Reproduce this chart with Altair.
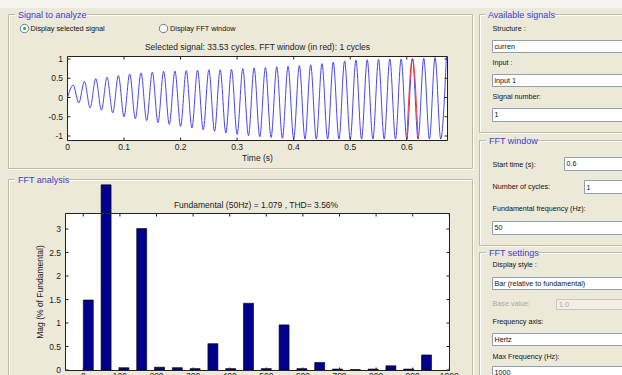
import altair as alt
import pandas as pd

# ------------------------------------------------------------------ data
FUND_HZ = 50
# signal extrema (peaks at 0.01+0.02k s, troughs at 0.02k s)
peak_values = [0.32, 0.42, 0.49, 0.53, 0.57, 0.61, 0.64, 0.66, 0.68, 0.69,
               0.70, 0.71, 0.72, 0.72, 0.73, 0.75, 0.77, 0.78, 0.80, 0.81,
               0.83, 0.85, 0.88, 0.92, 0.95, 0.97, 0.98, 0.99, 1.00, 1.00,
               1.01, 1.02, 1.04, 1.05]
trough_values = [-0.14, -0.27, -0.33, -0.40, -0.50, -0.55, -0.60, -0.65, -0.70, -0.75,
                 -0.79, -0.84, -0.88, -0.92, -0.96, -0.99, -1.02, -1.04, -1.06, -1.07,
                 -1.08, -1.08, -1.08, -1.08, -1.08, -1.08, -1.08, -1.08, -1.08, -1.08,
                 -1.08, -1.08, -1.08]
window_start = 0.60
window_cycles = 1

sig_xticks = [0, 0.1, 0.2, 0.3, 0.4, 0.5, 0.6]
sig_xlabels = ["0", "0.1", "0.2", "0.3", "0.4", "0.5", "0.6"]
sig_yticks = [-1, -0.5, 0, 0.5, 1]
sig_ylabels = ["-1", "-0.5", "0", "0.5", "1"]

fft_freqs = [0, 50, 100, 150, 200, 250, 300, 350, 400, 450,
             500, 550, 600, 650, 700, 750, 800, 850, 900, 950]
fft_mags = [1.49, 3.94, 0.05, 3.01, 0.06, 0.05, 0.03, 0.56, 0.03, 1.42,
            0.03, 0.96, 0.03, 0.16, 0.02, 0.01, 0.02, 0.09, 0.02, 0.32]
fft_xticks = [0, 100, 200, 300, 400, 500, 600, 700, 800, 900, 1000]
fft_xlabels = [str(v) for v in fft_xticks]
fft_yticks = [0, 0.5, 1, 1.5, 2, 2.5, 3]
fft_ylabels = ["0", "0.5", "1", "1.5", "2", "2.5", "3"]

sig_title = "Selected signal: 33.53 cycles. FFT window (in red): 1 cycles"
fft_title = "Fundamental (50Hz) = 1.079 , THD= 3.56%"

# ------------------------------------------------------------------ tables
period = 1.0 / FUND_HZ
pts = [(0.0, 0.0)]
for k in range(len(peak_values)):
    pts.append((period / 2 + k * period, peak_values[k]))
    if k < len(trough_values):
        pts.append((period + k * period, trough_values[k]))
pts.sort()
sig_df = pd.DataFrame(pts, columns=["t", "v"])
w_end = window_start + window_cycles * period
win_df = sig_df[(sig_df.t >= window_start - 1e-9) & (sig_df.t <= w_end + 1e-9)]

fft_df = pd.DataFrame({"f": fft_freqs, "m": fft_mags})

FONT = "Liberation Sans"
BG = "#ECE9D8"

# scales (pixel placement of the two axes boxes)
SX = alt.Scale(domain=[0, 0.6], range=[67.5, 406.8], nice=False, zero=False)
SY = alt.Scale(domain=[-1, 1], range=[136, 59], nice=False, zero=False)
FX = alt.Scale(domain=[0, 1000], range=[83.3, 449.3], nice=False, zero=False)
FY = alt.Scale(domain=[0, 3], range=[370, 229], nice=False, zero=False)

SIG_BOX = (67.5, 56.5, 447.5, 140.5)
FFT_BOX = (65.5, 213.5, 449.5, 370.5)


def prect(rows, **kw):
    df = pd.DataFrame(rows, columns=["x0", "y0", "x1", "y1"])
    return alt.Chart(df).mark_rect(**kw).encode(
        x=alt.X("x0:Q", scale=None, axis=None), x2="x1:Q",
        y=alt.Y("y0:Q", scale=None, axis=None), y2="y1:Q")


def prule(rows, **kw):
    df = pd.DataFrame(rows, columns=["x0", "y0", "x1", "y1"])
    return alt.Chart(df).mark_rule(**kw).encode(
        x=alt.X("x0:Q", scale=None, axis=None), x2="x1:Q",
        y=alt.Y("y0:Q", scale=None, axis=None), y2="y1:Q")


def ptext(rows, **kw):
    df = pd.DataFrame(rows, columns=["x", "y", "text"])
    return alt.Chart(df).mark_text(**kw).encode(
        x=alt.X("x:Q", scale=None, axis=None),
        y=alt.Y("y:Q", scale=None, axis=None), text="text:N")


layers = []

# top strip
layers.append(prect([(0, 0, 622, 8)], fill="#F4F3EE"))

# group boxes (etched)
groups = [
    (8.5, 14.5, 472.5, 168.5),
    (8.5, 179.5, 472.5, 420),
    (479.5, 14.5, 660, 132.5),
    (479.5, 140.5, 660, 245.5),
    (479.5, 252.5, 660, 420),
]
layers.append(prect([(a + 1, b + 1, c + 1, d + 1) for a, b, c, d in groups],
                    fill="transparent", stroke="#FFFFFF", strokeWidth=1))
layers.append(prect(groups, fill="transparent", stroke="#BDBAAA", strokeWidth=1))
# gaps behind group titles
layers.append(prect([(15, 10, 87, 19), (15, 175, 69, 184), (485, 10, 554, 19),
                     (486, 136, 537, 145), (486, 248, 538, 257)], fill=BG))
layers.append(ptext([(18, 14.5, "Signal to analyze"), (18, 179.5, "FFT analysis"),
                     (488, 14.5, "Available signals"), (489, 140.5, "FFT window"),
                     (489, 252.5, "FFT settings")],
                    align="left", baseline="middle", font=FONT, fontSize=9,
                    color="#3C3CD0"))

# radio buttons
layers.append(alt.Chart(pd.DataFrame({"x": [24.5, 163.5], "y": [28.5, 28.5]})).mark_point(
    shape="circle", filled=True, fill="#FFFFFF", stroke="#5A7EA8", strokeWidth=1, size=70,
    opacity=1).encode(x=alt.X("x:Q", scale=None, axis=None), y=alt.Y("y:Q", scale=None, axis=None)))
layers.append(alt.Chart(pd.DataFrame({"x": [24.5], "y": [28.5]})).mark_circle(
    color="#2CA02C", size=9, opacity=1).encode(
    x=alt.X("x:Q", scale=None, axis=None), y=alt.Y("y:Q", scale=None, axis=None)))
layers.append(ptext([(30.5, 28.5, "Display selected signal"), (170, 28.5, "Display FFT window")],
                    align="left", baseline="middle", font=FONT, fontSize=7.3, color="#111111"))

# right-panel labels
layers.append(ptext([
    (492.5, 29, "Structure :"), (492.5, 63, "Input :"), (492.5, 97, "Signal number:"),
    (492.5, 165, "Start time (s):"), (492.5, 187, "Number of cycles:"),
    (492.5, 209, "Fundamental frequency (Hz):"), (492.5, 265, "Display style :"),
    (492.5, 322, "Frequency axis:"), (492.5, 356.5, "Max Frequency (Hz):")],
    align="left", baseline="middle", font=FONT, fontSize=7.2, color="#111111"))
layers.append(ptext([(492.5, 304, "Base value:")], align="left", baseline="middle",
                    font=FONT, fontSize=7.2, color="#ACA899"))

# edit boxes
edits = [(492.5, 40.5, 660, 52.5), (492.5, 74.5, 660, 86.5), (492.5, 108.5, 660, 121.5),
         (564.5, 157.5, 660, 170.5), (584.5, 180.5, 660, 193.5), (492.5, 221.5, 660, 234.5),
         (492.5, 277.5, 660, 289.5), (492.5, 333.5, 660, 345.5), (492.5, 366.5, 660, 390)]
layers.append(prect(edits, fill="#FFFFFF", stroke="#8E9FB3", strokeWidth=1))
layers.append(prect([(556.5, 299.5, 660, 309.5)], fill="#F1EFE6", stroke="#C9C7BA", strokeWidth=1))
layers.append(ptext([
    (494.5, 46.5, "curren"), (494.5, 80.5, "input 1"), (494.5, 115, "1"),
    (566.5, 164, "0.6"), (586.5, 187.5, "1"), (494.5, 228, "50"),
    (494.5, 283.5, "Bar (relative to fundamental)"), (494.5, 339.5, "Hertz"),
    (494.5, 373, "1000")],
    align="left", baseline="middle", font=FONT, fontSize=7.2, color="#111111"))
layers.append(ptext([(559, 304.5, "1.0")], align="left", baseline="middle",
                    font=FONT, fontSize=7.2, color="#ACA899"))

# axes backgrounds
layers.append(prect([SIG_BOX, FFT_BOX], fill="#FFFFFF"))

# ---- signal plot
layers.append(alt.Chart(sig_df).mark_line(interpolate="monotone", color="#4646F5",
                                          strokeWidth=1, clip=False).encode(
    x=alt.X("t:Q", scale=SX, axis=None), y=alt.Y("v:Q", scale=SY, axis=None), order="t:Q"))
layers.append(alt.Chart(win_df).mark_line(interpolate="monotone", color="#FF3030",
                                          strokeWidth=1).encode(
    x=alt.X("t:Q", scale=SX, axis=None), y=alt.Y("v:Q", scale=SY, axis=None), order="t:Q"))

sxt = pd.DataFrame({"t": sig_xticks, "lab": sig_xlabels})
syt = pd.DataFrame({"v": sig_yticks, "lab": sig_ylabels})
for y0, y1 in [(SIG_BOX[3], SIG_BOX[3] - 3), (SIG_BOX[1], SIG_BOX[1] + 3)]:
    layers.append(alt.Chart(sxt).mark_rule(color="#222222", strokeWidth=1).encode(
        x=alt.X("t:Q", scale=SX, axis=None), y=alt.value(y0), y2=alt.value(y1)))
for x0, x1 in [(SIG_BOX[0], SIG_BOX[0] + 3), (SIG_BOX[2], SIG_BOX[2] - 3)]:
    layers.append(alt.Chart(syt).mark_rule(color="#222222", strokeWidth=1).encode(
        y=alt.Y("v:Q", scale=SY, axis=None), x=alt.value(x0), x2=alt.value(x1)))
layers.append(alt.Chart(sxt).mark_text(font=FONT, fontSize=8.5, color="#222222",
                                       baseline="middle", align="center").encode(
    x=alt.X("t:Q", scale=SX, axis=None), y=alt.value(147), text="lab:N"))
layers.append(alt.Chart(syt).mark_text(font=FONT, fontSize=8.5, color="#222222",
                                       baseline="middle", align="right").encode(
    y=alt.Y("v:Q", scale=SY, axis=None), x=alt.value(63), text="lab:N"))
layers.append(ptext([(257.5, 157.5, "Time (s)")], align="center", baseline="middle",
                    font=FONT, fontSize=8.5, color="#222222"))
layers.append(ptext([(257.5, 47, sig_title)], align="center", baseline="middle",
                    font=FONT, fontSize=8.5, color="#222222"))

# ---- FFT plot
layers.append(alt.Chart(fft_df).mark_bar(size=10, color="#00008B", stroke="#000000",
                                         strokeWidth=0.6, clip=False).encode(
    x=alt.X("f:Q", scale=FX, axis=None), y=alt.Y("m:Q", scale=FY, axis=None)))
fxt = pd.DataFrame({"f": fft_xticks, "lab": fft_xlabels})
fyt = pd.DataFrame({"m": fft_yticks, "lab": fft_ylabels})
for y0, y1 in [(FFT_BOX[3], FFT_BOX[3] - 3), (FFT_BOX[1], FFT_BOX[1] + 3)]:
    layers.append(alt.Chart(fxt).mark_rule(color="#222222", strokeWidth=1).encode(
        x=alt.X("f:Q", scale=FX, axis=None), y=alt.value(y0), y2=alt.value(y1)))
for x0, x1 in [(FFT_BOX[0], FFT_BOX[0] + 3), (FFT_BOX[2], FFT_BOX[2] - 3)]:
    layers.append(alt.Chart(fyt).mark_rule(color="#222222", strokeWidth=1).encode(
        y=alt.Y("m:Q", scale=FY, axis=None), x=alt.value(x0), x2=alt.value(x1)))
layers.append(alt.Chart(fxt).mark_text(font=FONT, fontSize=8.5, color="#222222",
                                       baseline="top", align="center").encode(
    x=alt.X("f:Q", scale=FX, axis=None), y=alt.value(372), text="lab:N"))
layers.append(alt.Chart(fyt).mark_text(font=FONT, fontSize=8.5, color="#222222",
                                       baseline="middle", align="right").encode(
    y=alt.Y("m:Q", scale=FY, axis=None), x=alt.value(61), text="lab:N"))
layers.append(ptext([(40, 292, "Mag (% of Fundamental)")], align="center", baseline="middle",
                    angle=270, font=FONT, fontSize=8.5, color="#222222"))
layers.append(ptext([(256, 204.5, fft_title)], align="center", baseline="middle",
                    font=FONT, fontSize=8.5, color="#222222"))

# axes frames
layers.append(prect([SIG_BOX, FFT_BOX], fill="transparent", stroke="#222222", strokeWidth=1))

chart = alt.layer(*layers).resolve_scale(x="independent", y="independent").properties(
    width=622, height=375, padding=0, background=BG,
    autosize=alt.AutoSizeParams(type="none")
).configure_view(strokeWidth=0)

chart.save("out.html", embed_options={"renderer": "svg", "actions": False})
